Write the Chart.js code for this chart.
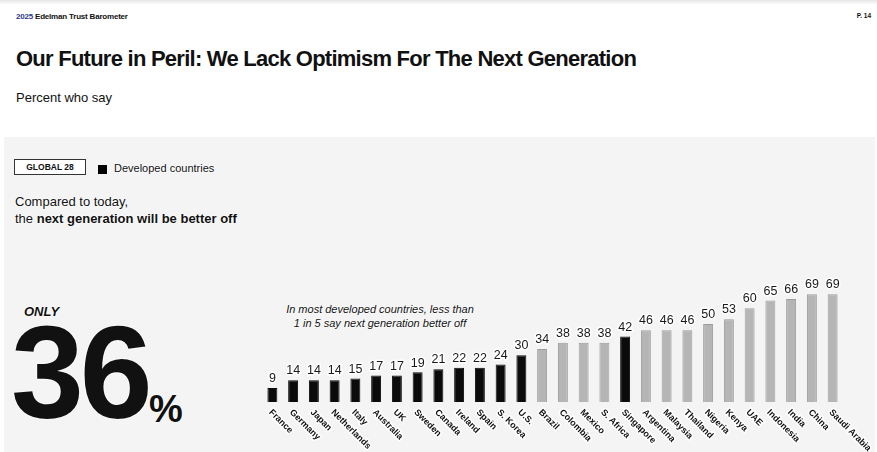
<!DOCTYPE html>
<html>
<head>
<meta charset="utf-8">
<script src="https://cdn.jsdelivr.net/npm/chart.js@4/dist/chart.umd.min.js"></script>
<style>
  html, body { margin: 0; padding: 0; background: #fff; }
  body { width: 877px; height: 452px; position: relative; overflow: hidden; font-family: "Liberation Sans", Arial, sans-serif; color: #111; }
  .topline { position: absolute; left: 0; top: 0; width: 877px; height: 4px; background: linear-gradient(#e6e6e6, #fafafa); }
  .brand { position: absolute; left: 16px; top: 12px; font-size: 8px; font-weight: bold; letter-spacing: -0.2px; }
  .brand span { color: #2b3a8c; }
  .page { position: absolute; right: 6px; top: 12px; font-size: 6.5px; font-weight: bold; }
  h1 { position: absolute; left: 16px; top: 46px; margin: 0; font-size: 22px; font-weight: bold; letter-spacing: -0.75px; white-space: nowrap; }
  .sub { position: absolute; left: 16px; top: 90px; font-size: 13px; }
  .panel { position: absolute; left: 4px; top: 137px; width: 871px; height: 315px; background: #f4f4f4; }
  .halo { text-shadow: 0 0 2px #fff, 0 0 2px #fff, 0 0 2px #fff; }
  .global { position: absolute; left: 14px; top: 159px; width: 70px; height: 14px; border: 1px solid #333; background: #fff; font-size: 8.5px; font-weight: bold; text-align: center; line-height: 14px; }
  .legsq { position: absolute; left: 98px; top: 165px; width: 9px; height: 9px; background: #000; }
  .legtx { position: absolute; left: 114px; top: 162px; font-size: 11px; }
  .q { position: absolute; left: 15px; top: 193px; font-size: 13px; line-height: 17px; }
  .only { position: absolute; left: 24px; top: 304px; font-size: 13px; font-weight: bold; font-style: italic; }
  .big { position: absolute; left: 11px; top: 308px; font-size: 131px; font-weight: bold; letter-spacing: -4px; line-height: 130px; }
  .pct { position: absolute; left: 149px; top: 388px; font-size: 38px; font-weight: bold; }
  .note { position: absolute; left: 270px; top: 302px; width: 220px; text-align: center; font-size: 11px; font-style: italic; line-height: 14px; }
  canvas { position: absolute; left: 0; top: 0; }
</style>
</head>
<body>
<div class="topline"></div>
<div class="brand"><span>2025</span> Edelman Trust Barometer</div>
<div class="page">P. 14</div>
<h1>Our Future in Peril: We Lack Optimism For The Next Generation</h1>
<div class="sub">Percent who say</div>
<div class="panel"></div>
<div class="global">GLOBAL 28</div>
<div class="legsq"></div>
<div class="legtx halo">Developed countries</div>
<div class="q halo">Compared to today,<br>the <b>next generation will be better off</b></div>
<div class="only halo">ONLY</div>
<div class="big halo">36</div>
<div class="pct halo">%</div>
<div class="note halo">In most developed countries, less than<br>1 in 5 say next generation better off</div>
<canvas id="chart" width="877" height="452"></canvas>
<script>
const countries = ['France', 'Germany', 'Japan', 'Netherlands', 'Italy', 'Australia', 'UK', 'Sweden', 'Canada', 'Ireland', 'Spain', 'S. Korea', 'U.S.', 'Brazil', 'Colombia', 'Mexico', 'S. Africa', 'Singapore', 'Argentina', 'Malaysia', 'Thailand', 'Nigeria', 'Kenya', 'UAE', 'Indonesia', 'India', 'China', 'Saudi Arabia'];
const betterOff = [9, 14, 14, 14, 15, 17, 17, 19, 21, 22, 22, 24, 30, 34, 38, 38, 38, 42, 46, 46, 46, 50, 53, 60, 65, 66, 69, 69];
const developed = ['France', 'Germany', 'Japan', 'Netherlands', 'Italy', 'Australia', 'UK', 'Sweden', 'Canada', 'Ireland', 'Spain', 'S. Korea', 'U.S.', 'Singapore'];

// draws value labels above bars and slanted country names below
const barLabels = {
    id: 'barLabels',
    afterDatasetsDraw(chart) {
        const ctx = chart.ctx;
        const meta = chart.getDatasetMeta(0);
        const base = chart.scales.y.getPixelForValue(0);
        ctx.save();
        ctx.lineJoin = 'round';
        meta.data.forEach(function (bar, i) {
            // value
            ctx.font = '12.5px "Liberation Sans", Arial, sans-serif';
            ctx.textAlign = 'center';
            ctx.textBaseline = 'bottom';
            ctx.strokeStyle = '#fff';
            ctx.lineWidth = 3;
            ctx.strokeText(betterOff[i], bar.x, bar.y - 3);
            ctx.fillStyle = '#1a1a1a';
            ctx.fillText(betterOff[i], bar.x, bar.y - 3);
            // country name
            ctx.save();
            ctx.translate(bar.x - 2, base + 9);
            ctx.rotate(Math.PI / 4);
            ctx.font = 'bold 9px "Liberation Sans", Arial, sans-serif';
            ctx.textAlign = 'left';
            ctx.textBaseline = 'middle';
            ctx.strokeText(countries[i], 0, 0);
            ctx.fillStyle = '#111';
            ctx.fillText(countries[i], 0, 0);
            ctx.restore();
        });
        ctx.restore();
    }
};

const chart = new Chart(document.getElementById('chart').getContext('2d'), {
    type: 'bar',
    data: {
        labels: countries,
        datasets: [{
            data: betterOff,
            backgroundColor: countries.map(c => developed.includes(c) ? '#0b0b0b' : '#b5b5b5'),
            borderColor: countries.map(c => developed.includes(c) ? '#0b0b0b' : '#9c9c9c'),
            borderWidth: 1,
            barPercentage: 0.48,
            categoryPercentage: 1.0
        }]
    },
    options: {
        responsive: false,
        animation: false,
        layout: { padding: { left: 262, right: 34, top: 277, bottom: 50 } },
        plugins: { legend: { display: false }, tooltip: { enabled: false } },
        scales: {
            x: { display: false, offset: true },
            y: { display: false, min: 0, max: 80 }
        }
    },
    plugins: [barLabels]
});
</script>
</body>
</html>
